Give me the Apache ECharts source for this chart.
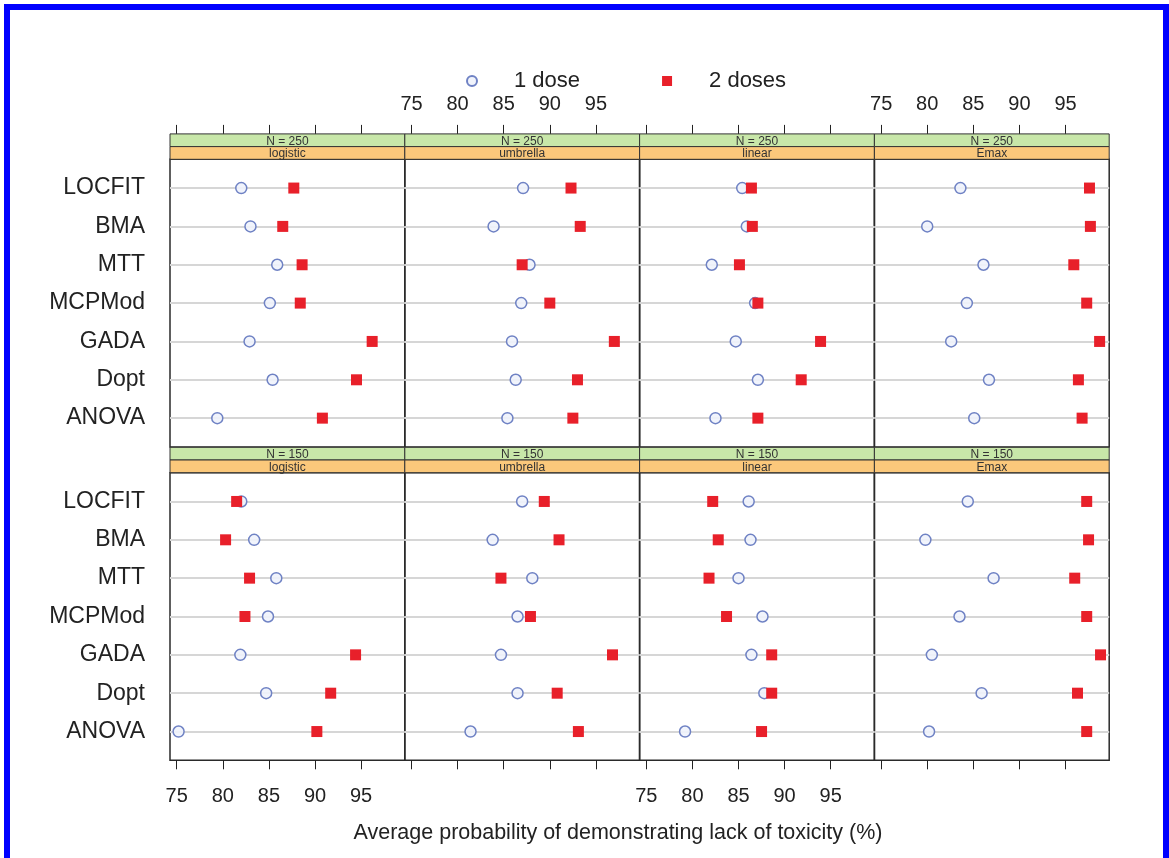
<!DOCTYPE html>
<html><head><meta charset="utf-8">
<script src="https://cdn.jsdelivr.net/npm/echarts@6/dist/echarts.min.js"></script>
<style>
html,body{margin:0;padding:0;background:#fff;}
#chart{position:absolute;left:0;top:0;width:1169px;height:858px;}
#frame{position:absolute;left:4px;top:4px;width:1153px;height:870px;border:6px solid #0000ff;border-bottom:none;pointer-events:none;}
</style></head><body>
<div id="chart"></div><div id="frame"></div>
<script>
// ---- data ----
const methods = ['LOCFIT', 'BMA', 'MTT', 'MCPMod', 'GADA', 'Dopt', 'ANOVA'];
const models = ['logistic', 'umbrella', 'linear', 'Emax'];
const sampleSizes = ['N = 250', 'N = 150'];
const seriesNames = ['1 dose', '2 doses'];
const xTicks = [75, 80, 85, 90, 95];
const xTitle = 'Average probability of demonstrating lack of toxicity (%)';

const n250_logistic_1dose = [82.0, 83.0, 85.9, 85.1, 82.9, 85.4, 79.4];
const n250_logistic_2doses = [87.7, 86.5, 88.6, 88.4, 96.2, 94.5, 90.8];
const n250_umbrella_1dose = [87.1, 83.9, 87.8, 86.9, 85.9, 86.3, 85.4];
const n250_umbrella_2doses = [92.3, 93.3, 87.0, 90.0, 97.0, 93.0, 92.5];
const n250_linear_1dose = [85.4, 85.9, 82.1, 86.8, 84.7, 87.1, 82.5];
const n250_linear_2doses = [86.4, 86.5, 85.1, 87.1, 93.9, 91.8, 87.1];
const n250_emax_1dose = [83.6, 80.0, 86.1, 84.3, 82.6, 86.7, 85.1];
const n250_emax_2doses = [97.6, 97.7, 95.9, 97.3, 98.7, 96.4, 96.8];

const n150_logistic_1dose = [82.0, 83.4, 85.8, 84.9, 81.9, 84.7, 75.2];
const n150_logistic_2doses = [81.5, 80.3, 82.9, 82.4, 94.4, 91.7, 90.2];
const n150_umbrella_1dose = [87.0, 83.8, 88.1, 86.5, 84.7, 86.5, 81.4];
const n150_umbrella_2doses = [89.4, 91.0, 84.7, 87.9, 96.8, 90.8, 93.1];
const n150_linear_1dose = [86.1, 86.3, 85.0, 87.6, 86.4, 87.8, 79.2];
const n150_linear_2doses = [82.2, 82.8, 81.8, 83.7, 88.6, 88.6, 87.5];
const n150_emax_1dose = [84.4, 79.8, 87.2, 83.5, 80.5, 85.9, 80.2];
const n150_emax_2doses = [97.3, 97.5, 96.0, 97.3, 98.8, 96.3, 97.3];

const panelValues = [
  [[n250_logistic_1dose, n250_logistic_2doses], [n250_umbrella_1dose, n250_umbrella_2doses],
   [n250_linear_1dose, n250_linear_2doses], [n250_emax_1dose, n250_emax_2doses]],
  [[n150_logistic_1dose, n150_logistic_2doses], [n150_umbrella_1dose, n150_umbrella_2doses],
   [n150_linear_1dose, n150_linear_2doses], [n150_emax_1dose, n150_emax_2doses]]
];

// ---- layout / style ----
const FONT = '"Liberation Sans", Arial, Helvetica, sans-serif';
const L = { left: 170, panelW: 234.8, tops: [159.3, 472.7], panelH: 287.6, stripH: 12.7 };
const X_MIN = 74.27, X_MAX = 99.74;
const C_BLUE = '#6f82c4', C_RED = '#e8202a', C_GREEN = '#c8e7a9', C_ORANGE = '#fbc87b';

const grid = [], xAxis = [], yAxis = [], series = [], graphic = [];
for (let r = 0; r < 2; r++) {
  for (let c = 0; c < 4; c++) {
    const idx = r * 4 + c;
    const gx = L.left + c * L.panelW, gy = L.tops[r];
    grid.push({ left: gx, top: gy, width: L.panelW, height: L.panelH, show: true,
      borderColor: '#2a2a2a', borderWidth: 1.5, backgroundColor: 'transparent' });
    xAxis.push({ gridIndex: idx, type: 'value', min: X_MIN, max: X_MAX,
      position: r === 0 ? 'top' : 'bottom', offset: r === 0 ? 2 * L.stripH : 0,
      axisLine: { show: false, onZero: false }, splitLine: { show: false },
      axisTick: { show: true, customValues: xTicks, length: 9, lineStyle: { color: '#222', width: 1 } },
      axisLabel: { show: r === 0 ? c % 2 === 1 : c % 2 === 0, customValues: xTicks,
        fontSize: 20, color: '#222', fontFamily: FONT, margin: r === 0 ? 19 : 26 } });
    yAxis.push({ gridIndex: idx, type: 'value', min: -0.75, max: 6.75, inverse: true,
      axisLine: { show: false, onZero: false }, axisTick: { show: false }, splitLine: { show: false },
      axisLabel: { show: c === 0, customValues: methods.map((m, i) => i),
        formatter: v => methods[Math.round(v)], fontSize: 23, color: '#222', fontFamily: FONT, margin: 25 } });
    // guide lines (one per method, across the panel)
    series.push({ type: 'lines', coordinateSystem: 'cartesian2d', xAxisIndex: idx, yAxisIndex: idx,
      z: 1, silent: true, polyline: false,
      lineStyle: { color: '#d6d6d6', width: 2, opacity: 1 },
      data: methods.map((m, i) => ({ coords: [[X_MIN, i], [X_MAX, i]] })) });
    const [one, two] = panelValues[r][c];
    series.push({ type: 'scatter', name: seriesNames[0], xAxisIndex: idx, yAxisIndex: idx, z: 2,
      symbol: 'circle', symbolSize: 11,
      itemStyle: { color: 'rgba(240,243,252,0.9)', borderColor: C_BLUE, borderWidth: 1.5, opacity: 1 },
      data: one.map((v, i) => [v, i]) });
    series.push({ type: 'scatter', name: seriesNames[1], xAxisIndex: idx, yAxisIndex: idx, z: 3,
      symbol: 'rect', symbolSize: 11,
      itemStyle: { color: C_RED, opacity: 1 },
      data: two.map((v, i) => [v, i]) });
    // strips
    graphic.push({ type: 'rect', shape: { x: gx, y: gy - 2 * L.stripH, width: L.panelW, height: L.stripH },
      style: { fill: C_GREEN, stroke: '#333', lineWidth: 1 }, z: 10 });
    graphic.push({ type: 'rect', shape: { x: gx, y: gy - L.stripH, width: L.panelW, height: L.stripH },
      style: { fill: C_ORANGE, stroke: '#333', lineWidth: 1 }, z: 10 });
    graphic.push({ type: 'text', x: gx + L.panelW / 2, y: gy - 1.5 * L.stripH + 1, z: 11,
      style: { text: sampleSizes[r], fontSize: 12, fontFamily: FONT, fill: '#333', align: 'center', verticalAlign: 'middle' } });
    graphic.push({ type: 'text', x: gx + L.panelW / 2, y: gy - 0.5 * L.stripH + 1, z: 11,
      style: { text: models[c], fontSize: 12, fontFamily: FONT, fill: '#333', align: 'center', verticalAlign: 'middle' } });
  }
}
graphic.push({ type: 'text', x: 618, y: 833, style: { text: xTitle, fontSize: 21.5, fontFamily: FONT,
  fill: '#222', align: 'center', verticalAlign: 'middle' } });

const chart = echarts.init(document.getElementById('chart'), null, { renderer: 'canvas' });
chart.setOption({
  animation: false,
  backgroundColor: '#fff',
  textStyle: { fontFamily: FONT },
  legend: { top: 65, left: 461, itemWidth: 10, itemHeight: 10, itemGap: 82,
    data: [{ name: seriesNames[0], icon: 'circle' }, { name: seriesNames[1], icon: 'rect' }],
    textStyle: { fontSize: 22, color: '#222', fontFamily: FONT, padding: [0, 0, 0, 32] } },
  grid, xAxis, yAxis, series, graphic
});
</script></body></html>
